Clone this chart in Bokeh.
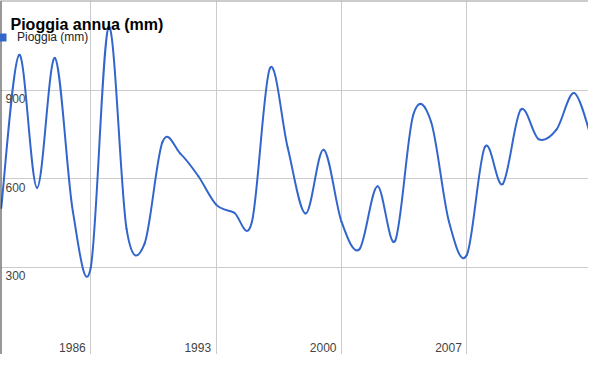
from bokeh.plotting import figure
from bokeh.models import Range1d, Grid, FixedTicker, Span, Label, Legend, LegendItem
from bokeh.embed import file_html
from bokeh.resources import INLINE
from bokeh.core.properties import value

# ---- data ----
title_text = "Pioggia annua (mm)"
series_name = "Pioggia (mm)"
years = list(range(1981, 2015))
rain = [502, 1021, 570, 1010, 490, 300, 1116, 430, 380, 725,
        686, 610, 513, 486, 455, 975, 705, 483, 699, 455,
        362, 575, 391, 816, 794, 455, 343, 708, 583, 834,
        735, 767, 891, 728]
x_ticks = [1986, 1993, 2000, 2007]
x_tick_labels = ["1986", "1993", "2000", "2007"]
y_ticks = [300, 600, 900]
y_tick_labels = ["300", "600", "900"]

# ---- view / style ----
X_START, X_END = 1980.96, 2013.79
Y_START, Y_END = 5, 1205
W, H = 588, 354
LINE_COLOR = "#3366cc"
GRID_COLOR = "#cccccc"
FONT = "Liberation Sans"

p = figure(width=W, height=H, output_backend="svg", toolbar_location=None,
           x_range=Range1d(X_START, X_END), y_range=Range1d(Y_START, Y_END),
           x_axis_location=None, y_axis_location=None, min_border=0)
p.outline_line_color = None
p.background_fill_color = "white"
p.border_fill_color = "white"

# replace default grids with fixed-tick grids
p.center = [r for r in p.center if not isinstance(r, Grid)]
p.add_layout(Grid(dimension=0, ticker=FixedTicker(ticks=x_ticks),
                  grid_line_color=GRID_COLOR, grid_line_width=1))
p.add_layout(Grid(dimension=1, ticker=FixedTicker(ticks=y_ticks),
                  grid_line_color=GRID_COLOR, grid_line_width=1))

# frame edge lines
p.add_layout(Span(location=X_START, dimension="height", line_color="#333333", line_width=2))
p.add_layout(Span(location=Y_END, dimension="width", line_color="#999999", line_width=2))

# smooth curve (Catmull-Rom segments drawn as Bezier glyphs)
n = len(years)
def pt(i):
    i = min(max(i, 0), n - 1)
    return years[i], rain[i]

bx0, by0, bx1, by1, bcx0, bcy0, bcx1, bcy1 = ([] for _ in range(8))
for i in range(n - 1):
    xa, ya = pt(i - 1)
    xb, yb = pt(i)
    xc, yc = pt(i + 1)
    xd, yd = pt(i + 2)
    bx0.append(xb); by0.append(yb)
    bx1.append(xc); by1.append(yc)
    bcx0.append(xb + (xc - xa) / 6.0); bcy0.append(yb + (yc - ya) / 6.0)
    bcx1.append(xc - (xd - xb) / 6.0); bcy1.append(yc - (yd - yb) / 6.0)

p.bezier(x0=bx0, y0=by0, x1=bx1, y1=by1, cx0=bcx0, cy0=bcy0, cx1=bcx1, cy1=bcy1,
         line_color=LINE_COLOR, line_width=2, line_cap="round")

# axis labels drawn inside the plot area
p.text(x=[X_START] * len(y_ticks), y=y_ticks, text=y_tick_labels,
       x_offset=5, y_offset=4, text_align="left", text_baseline="top",
       text_font=value(FONT), text_font_size="12px", text_color="#444444")
p.text(x=x_ticks, y=[Y_START] * len(x_ticks), text=x_tick_labels,
       x_offset=-5, y_offset=-3, text_align="right", text_baseline="bottom",
       text_font=value(FONT), text_font_size="12px", text_color="#444444")

# title
p.add_layout(Label(x=10, y=H - 24, x_units="screen", y_units="screen", text=title_text,
                   text_font=FONT, text_font_style="bold", text_font_size="16px",
                   text_color="#000000", text_baseline="alphabetic"))

# legend with a square swatch (zero-size quad at the first data point)
swatch = p.quad(left=years[:1], right=years[:1], top=rain[:1], bottom=rain[:1],
                fill_color=LINE_COLOR, line_color=None)
legend = Legend(items=[LegendItem(label=series_name, renderers=[swatch])],
                location=(-3, H - 44), margin=0, padding=0, spacing=0,
                glyph_width=10, glyph_height=10, label_height=10, label_standoff=10,
                label_text_font=FONT, label_text_font_size="12px", label_text_color="#222222",
                background_fill_alpha=0, border_line_color=None)
p.add_layout(legend)

open("out.html", "w").write(file_html(p, INLINE))
